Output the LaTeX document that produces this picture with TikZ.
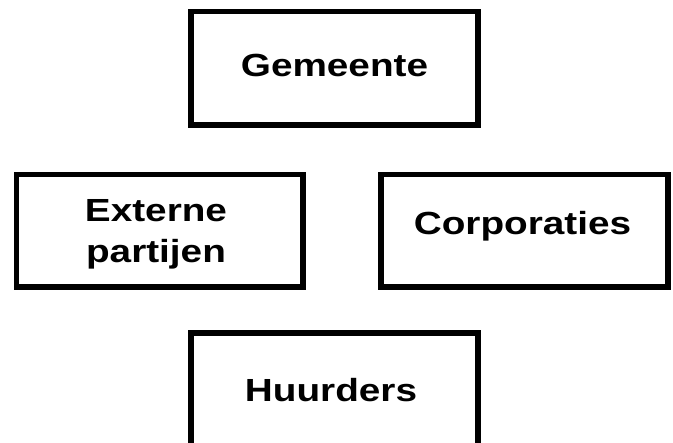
\documentclass[tikz,border=0pt]{standalone}
\usepackage{fontspec}
\newfontfamily\lblfont{Liberation Sans}[FakeStretch=1.21]
\begin{document}
\begin{tikzpicture}[x=1pt,y=1pt,
  box/.style={draw=black,line width=5.5pt,fill=none,inner sep=0pt,rectangle},
  lbl/.style={inner sep=0pt,font=\lblfont\bfseries\fontsize{32}{41}\selectfont,text=black,align=center}]
\useasboundingbox (0,0) rectangle (673,443);
\node[box,minimum width=287pt,minimum height=113.5pt] (gem) at (334.5,374.75) {};
\node[box,minimum width=286.5pt,minimum height=112.5pt] (ext) at (159.75,212.25) {};
\node[box,minimum width=287pt,minimum height=112.5pt] (cor) at (524.5,212.25) {};
\node[box,minimum width=287pt,minimum height=130pt] (huu) at (334.5,45) {};
\node[lbl,anchor=base] (gemt) at (334.5,366) {Gemeente};
\node[lbl,anchor=center] (extt) at (156,208.5) {Externe\\partijen};
\node[lbl,anchor=base] (cort) at (522.5,208) {Corporaties};
\node[lbl,anchor=base] (huut) at (331,41) {Huurders};
\end{tikzpicture}
\end{document}
